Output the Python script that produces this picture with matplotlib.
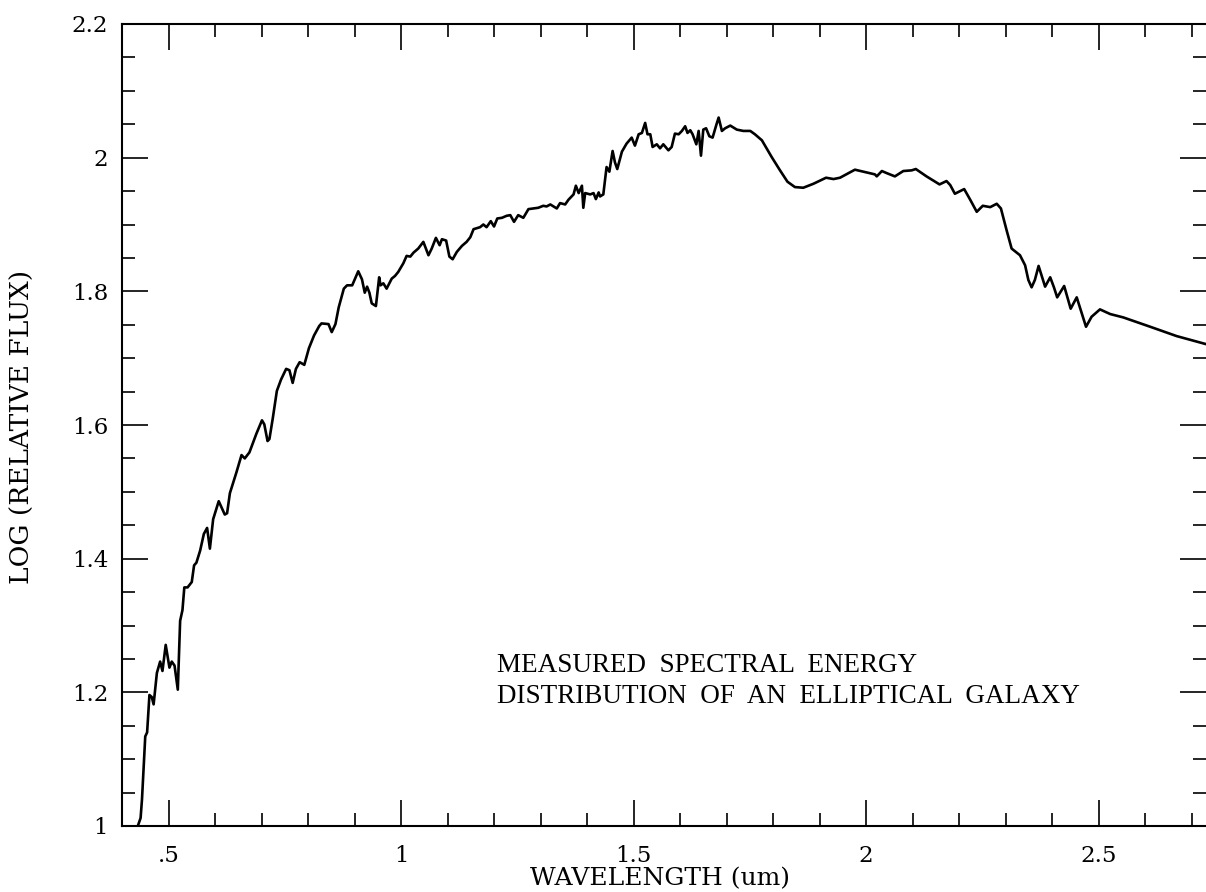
import matplotlib
matplotlib.use("Agg")
import matplotlib.pyplot as plt
from matplotlib.ticker import FixedLocator, MultipleLocator

# spectrum
wavelength = [
    0.434, 0.440, 0.443, 0.450, 0.454, 0.459, 0.464, 0.468, 0.475, 0.482,
    0.487, 0.494, 0.502, 0.507, 0.513, 0.520, 0.525, 0.530, 0.534, 0.541,
    0.550, 0.555, 0.560, 0.568, 0.576, 0.583, 0.589, 0.596, 0.608, 0.621,
    0.626, 0.632, 0.646, 0.657, 0.664, 0.674, 0.689, 0.701, 0.706, 0.713,
    0.717, 0.724, 0.733, 0.742, 0.753, 0.760, 0.767, 0.774, 0.782, 0.792,
    0.802, 0.813, 0.824, 0.829, 0.844, 0.851, 0.859, 0.866, 0.877, 0.884,
    0.895, 0.908, 0.916, 0.922, 0.927, 0.932, 0.937, 0.946, 0.953, 0.956,
    0.962, 0.969, 0.980, 0.987, 0.994,
    1.005, 1.012, 1.020, 1.027, 1.037, 1.048, 1.059, 1.066, 1.075, 1.083,
    1.088, 1.097, 1.104, 1.111, 1.120, 1.131, 1.141, 1.149, 1.156, 1.170,
    1.177, 1.184, 1.193, 1.200, 1.207, 1.217, 1.227, 1.235, 1.243, 1.252,
    1.263, 1.274, 1.285, 1.295, 1.306, 1.313, 1.321, 1.335, 1.342, 1.353,
    1.360, 1.371, 1.376, 1.382, 1.389, 1.392, 1.396, 1.407, 1.414, 1.419,
    1.425, 1.428, 1.435, 1.442, 1.448, 1.455, 1.460, 1.465, 1.475, 1.485,
    1.496, 1.503, 1.511, 1.518, 1.525, 1.530, 1.536, 1.541, 1.550, 1.557,
    1.564, 1.575, 1.582, 1.589, 1.597, 1.604, 1.611, 1.616, 1.622, 1.627,
    1.635, 1.640, 1.645, 1.650, 1.656, 1.663, 1.670, 1.678, 1.683, 1.690,
    1.697, 1.708, 1.722, 1.736, 1.751, 1.761,
    1.776, 1.797, 1.815, 1.831, 1.847, 1.865, 1.887, 1.914, 1.930, 1.944,
    1.976, 1.994, 2.019, 2.023, 2.034, 2.044, 2.062, 2.080, 2.098, 2.107,
    2.130, 2.158, 2.173,
    2.181, 2.191, 2.211, 2.224, 2.238, 2.251, 2.267, 2.281, 2.290, 2.302,
    2.313, 2.331, 2.342, 2.349, 2.356, 2.363, 2.371, 2.376, 2.385, 2.396,
    2.404, 2.411, 2.426, 2.440, 2.453, 2.473, 2.485, 2.503, 2.525, 2.553,
    2.611, 2.668, 2.731,
]
log_flux = [
    1.000, 1.012, 1.040, 1.134, 1.140, 1.196, 1.193, 1.182, 1.229, 1.246,
    1.232, 1.271, 1.237, 1.246, 1.240, 1.204, 1.307, 1.323, 1.357, 1.357,
    1.365, 1.390, 1.394, 1.412, 1.437, 1.446, 1.415, 1.459, 1.486, 1.466,
    1.468, 1.498, 1.529, 1.555, 1.550, 1.559, 1.587, 1.607, 1.601, 1.576,
    1.579, 1.609, 1.651, 1.668, 1.684, 1.682, 1.663, 1.684, 1.694, 1.690,
    1.715, 1.734, 1.748, 1.752, 1.751, 1.739, 1.751, 1.776, 1.804, 1.809,
    1.809, 1.830, 1.818, 1.798, 1.807, 1.798, 1.782, 1.778, 1.821, 1.809,
    1.812, 1.804, 1.819, 1.823, 1.829,
    1.842, 1.853, 1.852, 1.858, 1.864, 1.874, 1.854, 1.864, 1.880, 1.869,
    1.878, 1.876, 1.852, 1.848, 1.859, 1.868, 1.874, 1.881, 1.893, 1.896,
    1.900, 1.896, 1.905, 1.897, 1.909, 1.910, 1.913, 1.914, 1.904, 1.914,
    1.910, 1.923, 1.924, 1.925, 1.928, 1.927, 1.930, 1.924, 1.932, 1.930,
    1.937, 1.945, 1.958, 1.947, 1.958, 1.925, 1.947, 1.945, 1.947, 1.938,
    1.948, 1.942, 1.945, 1.986, 1.979, 2.010, 1.993, 1.983, 2.009, 2.021,
    2.030, 2.018, 2.035, 2.037, 2.052, 2.035, 2.035, 2.016, 2.020, 2.014,
    2.020, 2.011, 2.016, 2.036, 2.035, 2.040, 2.047, 2.037, 2.041, 2.035,
    2.020, 2.040, 2.003, 2.042, 2.044, 2.032, 2.030, 2.049, 2.060, 2.040,
    2.044, 2.048, 2.042, 2.040, 2.040, 2.035,
    2.026, 2.001, 1.981, 1.964, 1.956, 1.955, 1.961, 1.970, 1.968, 1.970,
    1.982, 1.979, 1.975, 1.972, 1.980, 1.977, 1.972, 1.980, 1.981, 1.983,
    1.972, 1.960, 1.965,
    1.959, 1.946, 1.953, 1.937, 1.919, 1.928, 1.926, 1.931, 1.924, 1.892,
    1.864, 1.854, 1.839, 1.817, 1.806, 1.817, 1.838, 1.827, 1.807, 1.821,
    1.806, 1.791, 1.808, 1.774, 1.791, 1.747, 1.762, 1.773, 1.766, 1.761,
    1.747, 1.733, 1.721,
]

x_ticks = [0.5, 1.0, 1.5, 2.0, 2.5]
x_tick_labels = [".5", "1", "1.5", "2", "2.5"]
y_ticks = [1.0, 1.2, 1.4, 1.6, 1.8, 2.0, 2.2]
y_tick_labels = ["1", "1.2", "1.4", "1.6", "1.8", "2", "2.2"]

note_lines = ["MEASURED  SPECTRAL  ENERGY",
              "DISTRIBUTION  OF  AN  ELLIPTICAL  GALAXY"]

W, H = 1206, 892
fig = plt.figure(figsize=(W / 100, H / 100), dpi=100)
ax = fig.add_axes([122 / W, 1 - 826 / H, 1 - 122 / W, (826 - 24) / H])

ax.plot(wavelength, log_flux, color="black", lw=1.9, solid_joinstyle="round")

ax.set_xlim(0.4, 2.731)
ax.set_ylim(1.0, 2.2)

ax.xaxis.set_major_locator(FixedLocator(x_ticks))
ax.set_xticklabels(x_tick_labels)
ax.xaxis.set_minor_locator(MultipleLocator(0.1))
ax.yaxis.set_major_locator(FixedLocator(y_ticks))
ax.set_yticklabels(y_tick_labels)
ax.yaxis.set_minor_locator(MultipleLocator(0.05))

ax.tick_params(which="both", direction="in", top=True, right=True,
               color="black", width=1.2)
ax.tick_params(which="major", length=19)
ax.tick_params(which="minor", length=9.5)
ax.tick_params(axis="x", which="major", pad=14)
ax.tick_params(axis="y", which="major", pad=10)
for lab in ax.get_xticklabels() + ax.get_yticklabels():
    lab.set_family("DejaVu Serif")
    lab.set_fontsize(16.5)

for side in ["left", "bottom", "top"]:
    ax.spines[side].set_linewidth(1.5)
ax.spines["right"].set_visible(False)

fig.text(660 / W, 1 - 879 / H, "WAVELENGTH (um)", family="DejaVu Serif",
         fontsize=18, ha="center", va="center")
fig.text(22 / W, 1 - 427 / H, "LOG (RELATIVE FLUX)", family="DejaVu Serif",
         fontsize=19, ha="center", va="center", rotation=90)

fig.text(497 / W, 1 - 672 / H, note_lines[0], family="Liberation Serif",
         fontsize=19.5, ha="left", va="baseline")
fig.text(497 / W, 1 - 703 / H, note_lines[1], family="Liberation Serif",
         fontsize=19.5, ha="left", va="baseline")

fig.savefig("out.png", dpi=100)
